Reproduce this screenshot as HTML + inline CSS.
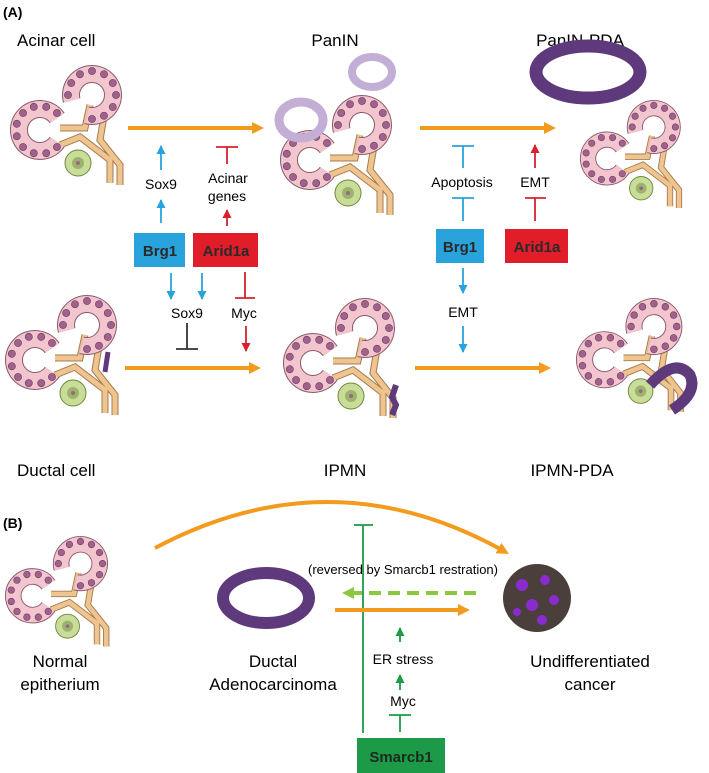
<!DOCTYPE html>
<html><head><style>body{margin:0;background:#fff}svg{display:block}text{font-family:"Liberation Sans",sans-serif}</style></head>
<body>
<svg width="709" height="773" viewBox="0 0 709 773" xmlns="http://www.w3.org/2000/svg">
<defs>
<marker id="ao" markerWidth="14" markerHeight="14" refX="4" refY="7" orient="auto" markerUnits="userSpaceOnUse"><path d="M0,1L12,7L0,13z" fill="#f39b1f"/></marker>
<marker id="ab" markerWidth="9" markerHeight="9" refX="8" refY="4.5" orient="auto" markerUnits="userSpaceOnUse"><path d="M0,0L9,4.5L0,9z" fill="#29a3dc"/></marker>
<marker id="ar" markerWidth="9" markerHeight="9" refX="8" refY="4.5" orient="auto" markerUnits="userSpaceOnUse"><path d="M0,0L9,4.5L0,9z" fill="#d9202e"/></marker>
<marker id="ag" markerWidth="9" markerHeight="9" refX="8" refY="4.5" orient="auto" markerUnits="userSpaceOnUse"><path d="M0,0L9,4.5L0,9z" fill="#1c9a48"/></marker>
<marker id="al" markerWidth="14" markerHeight="14" refX="4" refY="7" orient="auto" markerUnits="userSpaceOnUse"><path d="M0,1L12,7L0,13z" fill="#8dc63f"/></marker>
<g id="nuc"><circle cx="24" cy="0" r="3.6" fill="#a0628c" stroke="#6a3a5a" stroke-width="0.6"/></g>
<g id="tis">
 <g fill="none" stroke-linecap="butt">
  <path d="M50,63 L75,63 L80,40 M95,45 L90,75 L110,100 L110,120 M50,80 L70,72 L100,95 L100,118" stroke="#a87a50" stroke-width="7"/>
  <path d="M50,63 L75,63 L80,40 M95,45 L90,75 L110,100 L110,120 M50,80 L70,72 L100,95 L100,118" stroke="#eec48f" stroke-width="5"/>
  <path d="M47.2,53 A21,21 0 1,0 47.2,77" stroke="#8a5a6a" stroke-width="18"/>
  <path d="M47.2,53 A21,21 0 1,0 47.2,77" stroke="#f3c6cf" stroke-width="16"/>
  <path d="M61.7,35.4 A21,21 0 1,1 76.6,50.3" stroke="#8a5a6a" stroke-width="18"/>
  <path d="M61.7,35.4 A21,21 0 1,1 76.6,50.3" stroke="#f3c6cf" stroke-width="16"/>
 </g>
 <g transform="translate(30,65)">
  <use href="#nuc" transform="rotate(45)"/><use href="#nuc" transform="rotate(75)"/><use href="#nuc" transform="rotate(105)"/><use href="#nuc" transform="rotate(135)"/><use href="#nuc" transform="rotate(165)"/><use href="#nuc" transform="rotate(195)"/><use href="#nuc" transform="rotate(225)"/><use href="#nuc" transform="rotate(255)"/><use href="#nuc" transform="rotate(285)"/><use href="#nuc" transform="rotate(315)"/>
 </g>
 <g transform="translate(82,30)">
  <use href="#nuc" transform="rotate(180)"/><use href="#nuc" transform="rotate(210)"/><use href="#nuc" transform="rotate(240)"/><use href="#nuc" transform="rotate(270)"/><use href="#nuc" transform="rotate(300)"/><use href="#nuc" transform="rotate(330)"/><use href="#nuc" transform="rotate(0)"/><use href="#nuc" transform="rotate(30)"/><use href="#nuc" transform="rotate(60)"/><use href="#nuc" transform="rotate(90)"/>
 </g>
 <circle cx="68" cy="98" r="13" fill="#c9dc9a" stroke="#6c8a3a"/>
 <circle cx="68" cy="98" r="6" fill="#9ab56a"/>
 <circle cx="68" cy="98" r="2" fill="#a0628c"/>
</g>
</defs>

<text x="3" y="17" font-size="14" font-weight="bold">(A)</text>
<g font-size="17">
<text x="17" y="46">Acinar cell</text>
<text x="335" y="46" text-anchor="middle">PanIN</text>
<text x="580" y="46" text-anchor="middle">PanIN-PDA</text>
<text x="17" y="476">Ductal cell</text>
<text x="345" y="476" text-anchor="middle">IPMN</text>
<text x="572" y="476" text-anchor="middle">IPMN-PDA</text>
</g>

<use href="#tis" transform="translate(10,65)"/>
<use href="#tis" transform="translate(280,95)"/>
<use href="#tis" transform="translate(580,100) scale(0.9)"/>
<use href="#tis" transform="translate(5,295)"/>
<use href="#tis" transform="translate(283,298)"/>
<use href="#tis" transform="translate(576,298) scale(0.95)"/>
<ellipse cx="301" cy="120" rx="22" ry="18" fill="none" stroke="#c3aed6" stroke-width="9"/>
<ellipse cx="372" cy="72" rx="20" ry="15" fill="none" stroke="#c3aed6" stroke-width="8"/>
<ellipse cx="588" cy="72" rx="52" ry="26" fill="none" stroke="#5e3a7c" stroke-width="13"/>
<path d="M396,385 l-4,12 l4,8 l-4,10" stroke="#5e3a7c" stroke-width="6" fill="none"/>
<path d="M105,372 l3,-20" stroke="#5e3a7c" stroke-width="5" fill="none"/>
<path d="M650,385 q25,-28 40,-10 q8,18 -18,35" stroke="#5e3a7c" stroke-width="11" fill="none"/>

<g stroke="#f39b1f" stroke-width="4" fill="none">
<line x1="128" y1="128" x2="256" y2="128" marker-end="url(#ao)"/>
<line x1="420" y1="128" x2="548" y2="128" marker-end="url(#ao)"/>
<line x1="125" y1="368" x2="253" y2="368" marker-end="url(#ao)"/>
<line x1="415" y1="368" x2="543" y2="368" marker-end="url(#ao)"/>
</g>

<rect x="134" y="233" width="51" height="34" fill="#29a3dc"/>
<rect x="193" y="233" width="65" height="34" fill="#e11d2a"/>
<rect x="436" y="229" width="48" height="34" fill="#29a3dc"/>
<rect x="505" y="229" width="63" height="34" fill="#e11d2a"/>
<g font-size="15" font-weight="bold" fill="#2a2a2a" text-anchor="middle">
<text x="160" y="256">Brg1</text><text x="226" y="256">Arid1a</text>
<text x="460" y="252">Brg1</text><text x="537" y="252">Arid1a</text>
</g>

<g font-size="14" text-anchor="middle">
<text x="161" y="189">Sox9</text>
<text x="228" y="183">Acinar</text><text x="227" y="201">genes</text>
<text x="187" y="318">Sox9</text><text x="244" y="318">Myc</text>
<text x="462" y="187">Apoptosis</text><text x="535" y="187">EMT</text>
<text x="463" y="317">EMT</text>
</g>

<g stroke="#29a3dc" stroke-width="1.8" fill="none">
<line x1="161" y1="223" x2="161" y2="200" marker-end="url(#ab)"/>
<line x1="161" y1="170" x2="161" y2="146" marker-end="url(#ab)"/>
<line x1="171" y1="273" x2="171" y2="299" marker-end="url(#ab)"/>
<line x1="202" y1="273" x2="202" y2="299" marker-end="url(#ab)"/>
<line x1="463" y1="168" x2="463" y2="146"/><line x1="452" y1="146" x2="474" y2="146"/>
<line x1="463" y1="221" x2="463" y2="198"/><line x1="452" y1="198" x2="474" y2="198"/>
<line x1="463" y1="268" x2="463" y2="293" marker-end="url(#ab)"/>
<line x1="463" y1="326" x2="463" y2="352" marker-end="url(#ab)"/>
</g>
<g stroke="#d9202e" stroke-width="1.8" fill="none">
<line x1="227" y1="226" x2="227" y2="210" marker-end="url(#ar)"/>
<line x1="227" y1="164" x2="227" y2="147"/><line x1="216" y1="147" x2="238" y2="147"/>
<line x1="245" y1="272" x2="245" y2="298"/><line x1="235" y1="298" x2="255" y2="298"/>
<line x1="246" y1="326" x2="246" y2="351" marker-end="url(#ar)"/>
<line x1="535" y1="168" x2="535" y2="145" marker-end="url(#ar)"/>
<line x1="535" y1="221" x2="535" y2="198"/><line x1="525" y1="198" x2="546" y2="198"/>
</g>
<g stroke="#333" stroke-width="1.8"><line x1="187" y1="323" x2="187" y2="349"/><line x1="176" y1="349" x2="198" y2="349"/></g>

<text x="3" y="528" font-size="14" font-weight="bold">(B)</text>
<use href="#tis" transform="translate(5,536) scale(0.92)"/>
<path d="M155,548 Q330,455 502,550" stroke="#f39b1f" stroke-width="4" fill="none" marker-end="url(#ao)"/>
<ellipse cx="266" cy="598" rx="43" ry="25" fill="none" stroke="#5e3a7c" stroke-width="12"/>
<circle cx="537" cy="598" r="34" fill="#4a3f3a"/>
<g fill="#8a2bd0"><circle cx="522" cy="585" r="6"/><circle cx="545" cy="580" r="5"/><circle cx="532" cy="605" r="6"/><circle cx="554" cy="600" r="5"/><circle cx="517" cy="612" r="4"/><circle cx="542" cy="620" r="5"/></g>

<g stroke="#1c9a48" stroke-width="1.8" fill="none">
<line x1="363" y1="525" x2="363" y2="733"/><line x1="354" y1="525" x2="373" y2="525"/>
<line x1="400" y1="732" x2="400" y2="715"/><line x1="389" y1="715" x2="411" y2="715"/>
<line x1="400" y1="690" x2="400" y2="675" marker-end="url(#ag)"/>
<line x1="400" y1="642" x2="400" y2="628" marker-end="url(#ag)"/>
</g>
<line x1="476" y1="593" x2="350" y2="593" stroke="#8dc63f" stroke-width="4" stroke-dasharray="12,7" marker-end="url(#al)"/>
<line x1="335" y1="610" x2="462" y2="610" stroke="#f39b1f" stroke-width="4" marker-end="url(#ao)"/>
<text x="403" y="574" font-size="13" text-anchor="middle">(reversed by Smarcb1 restration)</text>
<g font-size="17" text-anchor="middle">
<text x="60" y="667">Normal</text><text x="60" y="690">epitherium</text>
<text x="273" y="667">Ductal</text><text x="273" y="690">Adenocarcinoma</text>
<text x="590" y="667">Undifferentiated</text><text x="590" y="690">cancer</text>
</g>
<g font-size="14" text-anchor="middle"><text x="403" y="664">ER stress</text><text x="403" y="706">Myc</text></g>
<rect x="357" y="738" width="88" height="35" fill="#1c9a48"/>
<text x="401" y="762" font-size="15" font-weight="bold" text-anchor="middle" fill="#1f2a1f">Smarcb1</text>
</svg>
</body></html>
